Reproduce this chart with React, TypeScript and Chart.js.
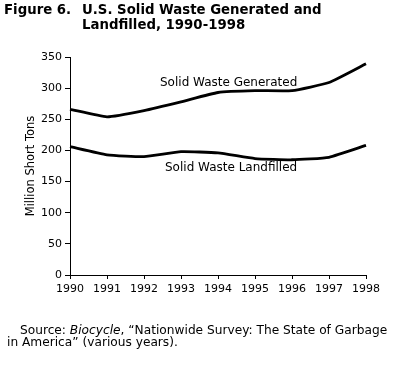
import React, { useEffect, useRef } from "react";
import { Chart, registerables } from "chart.js";

Chart.register(...registerables);

const years = ["1990", "1991", "1992", "1993", "1994", "1995", "1996", "1997", "1998"];
const generated = [266, 254, 264, 278, 293, 296, 296, 309, 339];
const landfilled = [206, 193, 190, 198, 196, 187, 185, 189, 208];
const yMin = 0;
const yMax = 350;
const yStep = 50;

const titleLine1a = "Figure 6.";
const titleLine1b = "U.S. Solid Waste Generated and";
const titleLine2 = "Landfilled, 1990-1998";
const yAxisTitle = "Million Short Tons";
const generatedLabel = "Solid Waste Generated";
const landfilledLabel = "Solid Waste Landfilled";

const FONT = '"DejaVu Sans", "Liberation Sans", Arial, sans-serif';

const textPlugin = {
  id: "textPlugin",
  afterDraw(chart: any) {
    const ctx = chart.ctx;
    ctx.save();
    ctx.fillStyle = "#000";
    ctx.textBaseline = "alphabetic";
    ctx.textAlign = "left";
    ctx.font = `bold 13.3px ${FONT}`;
    ctx.fillText(titleLine1a, 4, 14);
    ctx.fillText(titleLine1b, 82, 14);
    ctx.fillText(titleLine2, 82, 29);

    ctx.font = `12px ${FONT}`;
    ctx.fillText(generatedLabel, 160, 86);
    ctx.fillText(landfilledLabel, 165, 171);

    // source
    let x = 20;
    const y1 = 334;
    ctx.font = `12.2px ${FONT}`;
    ctx.fillText("Source: ", x, y1);
    x += ctx.measureText("Source: ").width;
    ctx.font = `italic 12.2px ${FONT}`;
    ctx.fillText("Biocycle", x, y1);
    x += ctx.measureText("Biocycle").width;
    ctx.font = `12.2px ${FONT}`;
    ctx.fillText(", \u201CNationwide Survey: The State of Garbage", x, y1);
    ctx.fillText("in America\u201D (various years).", 7, 346);
    ctx.restore();
  },
};

export default function App() {
  const ref = useRef<HTMLCanvasElement | null>(null);
  useEffect(() => {
    if (!ref.current) return;
    const chart = new Chart(ref.current, {
      type: "line",
      data: {
        labels: years,
        datasets: [
          {
            label: generatedLabel,
            data: generated,
            borderColor: "#000",
            borderWidth: 2.8,
            pointRadius: 0,
            tension: 0.15,
            fill: false,
          },
          {
            label: landfilledLabel,
            data: landfilled,
            borderColor: "#000",
            borderWidth: 2.8,
            pointRadius: 0,
            tension: 0.15,
            fill: false,
          },
        ],
      },
      options: {
        responsive: false,
        animation: false,
        layout: { padding: { left: 0, top: 57, right: 34, bottom: 0 } },
        plugins: {
          legend: { display: false },
          tooltip: { enabled: false },
        },
        scales: {
          x: {
            offset: false,
            grid: { display: true, drawOnChartArea: false, tickLength: 4, color: "#000" },
            border: { display: true, color: "#000", width: 1 },
            ticks: { color: "#000", font: { family: FONT, size: 11 }, padding: 4, maxRotation: 0, autoSkip: false },
            afterFit: (s: any) => {
              s.height = 92;
            },
          },
          y: {
            min: yMin,
            max: yMax,
            grid: { display: true, drawOnChartArea: false, tickLength: 5, color: "#000" },
            border: { display: true, color: "#000", width: 1 },
            ticks: { stepSize: yStep, color: "#000", font: { family: FONT, size: 11 }, padding: 3 },
            title: {
              display: true,
              text: yAxisTitle,
              color: "#000",
              font: { family: FONT, size: 11.5 },
              padding: { top: 24, bottom: 0 },
            },
            afterFit: (s: any) => {
              s.width = 70;
            },
          },
        },
      },
      plugins: [textPlugin],
    });
    return () => chart.destroy();
  }, []);
  return (
    <div style={{ position: "absolute", left: 0, top: 0, width: 400, height: 367, background: "#fff" }}>
      <canvas ref={ref} width={400} height={367} style={{ display: "block" }} />
    </div>
  );
}
